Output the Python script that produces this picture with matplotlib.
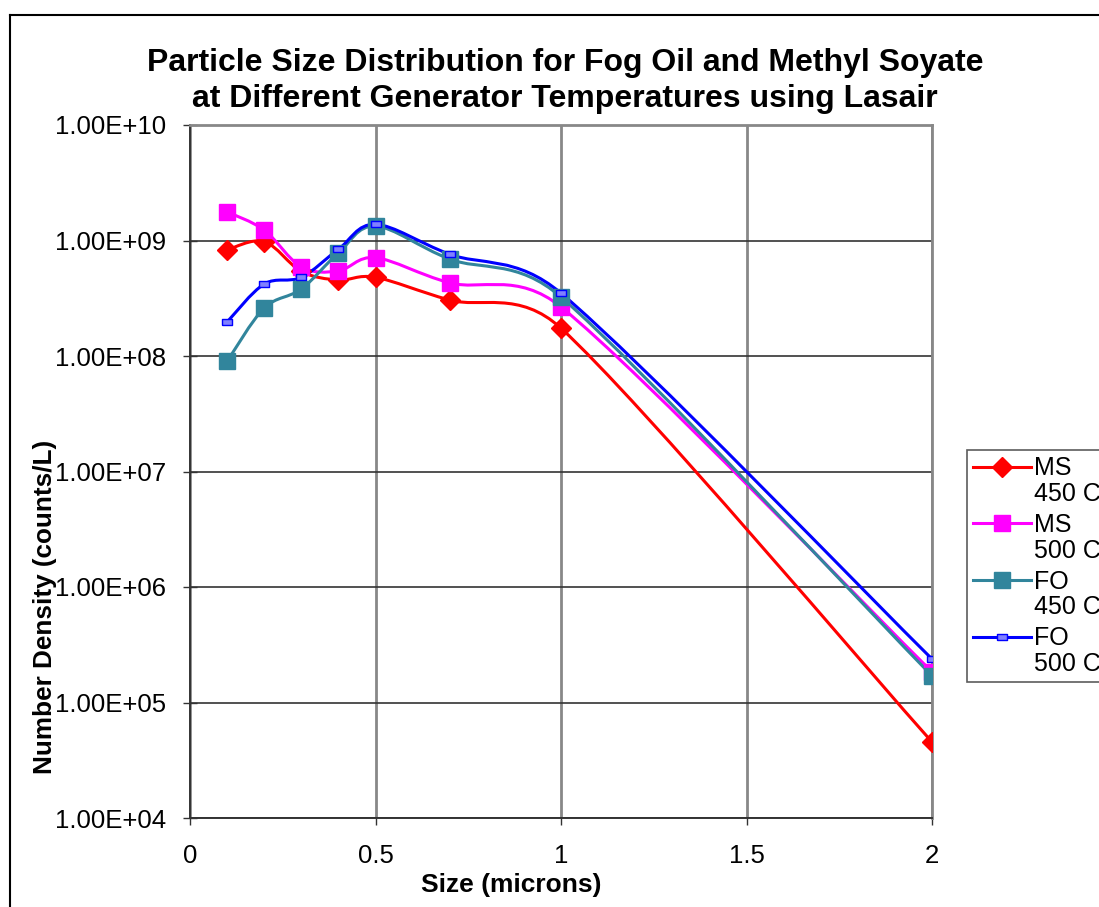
import numpy as np
import matplotlib.pyplot as plt
from matplotlib.path import Path
from matplotlib.patches import PathPatch
from matplotlib.legend_handler import HandlerLine2D
from matplotlib.lines import Line2D
from matplotlib.ticker import FixedLocator, FuncFormatter

plt.rcParams['font.family'] = ['Liberation Sans', 'DejaVu Sans']

# размеры частиц (мкм)
size = [0.1, 0.2, 0.3, 0.4, 0.5, 0.7, 1.0, 2.0]

# плотность числа частиц (counts/L)
ms_450 = [8.3e8, 9.8e8, 5.4e8, 4.55e8, 4.8e8, 3.05e8, 1.74e8, 4.55e4]
ms_500 = [1.77e9, 1.23e9, 5.9e8, 5.45e8, 7.1e8, 4.3e8, 2.66e8, 1.84e5]
fo_450 = [9.0e7, 2.6e8, 3.8e8, 7.8e8, 1.33e9, 6.9e8, 3.24e8, 1.7e5]
fo_500 = [1.97e8, 4.2e8, 4.8e8, 8.4e8, 1.38e9, 7.6e8, 3.5e8, 2.38e5]

labels = ["MS\n450 C", "MS\n500 C", "FO\n450 C", "FO\n500 C"]
colors = ["#FF0000", "#FF00FF", "#31859C", "#0000FF"]

rect = [(-1, -0.55), (1, -0.55), (1, 0.55), (-1, 0.55), (-1, -0.55)]
markers = [dict(marker="D", markersize=10),
           dict(marker="s", markersize=12),
           dict(marker="s", markersize=11),
           dict(marker=rect, markersize=7, markerfacecolor="#8080FF")]

# масштаб в пикселях (для сглаживания как в Excel)
PX_X = 371.0   # пикселей на 1 мкм
PX_Y = 115.5   # пикселей на декаду


def smooth_path(xs, ys):
    # кривые Безье (как сглаживание Excel): натяжение 1/6,
    # контрольная точка не дальше половины длины отрезка
    P = np.column_stack([np.array(xs, dtype=float) * PX_X, np.log10(ys) * PX_Y])
    n = len(P)
    verts = [tuple(P[0])]
    codes = [Path.MOVETO]
    for i in range(n - 1):
        p0 = P[max(i - 1, 0)]
        p1 = P[i]
        p2 = P[i + 1]
        p3 = P[min(i + 2, n - 1)]
        d12 = np.hypot(*(p2 - p1))
        d02 = np.hypot(*(p2 - p0))
        d13 = np.hypot(*(p3 - p1))
        f1 = min(1 / 6, d12 / (2 * d02)) if d02 > 0 else 1 / 6
        f2 = min(1 / 6, d12 / (2 * d13)) if d13 > 0 else 1 / 6
        c1 = p1 + (p2 - p0) * f1
        c2 = p2 - (p3 - p1) * f2
        verts += [tuple(c1), tuple(c2), tuple(p2)]
        codes += [Path.CURVE4] * 3
    verts = [(vx / PX_X, 10 ** (vy / PX_Y)) for vx, vy in verts]
    return Path(verts, codes)


fig = plt.figure(figsize=(10.99, 9.07), dpi=100)
ax = fig.add_axes([190 / 1099, 1 - 818 / 907, 742 / 1099, 693 / 907])
ax.set_yscale("log")
ax.set_xlim(0, 2)
ax.set_ylim(1e4, 1e10)

for data, c, m in zip([ms_450, ms_500, fo_450, fo_500], colors, markers):
    patch = PathPatch(smooth_path(size, data), facecolor="none", edgecolor=c,
                      linewidth=2.2, zorder=3)
    ax.add_patch(patch)
    ax.plot(size, data, linestyle="none", color=c, markeredgecolor=c, zorder=4, **m)

# сетка
ax.yaxis.set_major_locator(FixedLocator([10.0 ** k for k in range(4, 11)]))
ax.yaxis.set_minor_locator(FixedLocator([]))
ax.yaxis.set_major_formatter(FuncFormatter(lambda v, p: "1.00E+%02d" % round(np.log10(v))))
ax.set_xticks([0, 0.5, 1, 1.5, 2])
ax.set_xticklabels(["0", "0.5", "1", "1.5", "2"])
ax.grid(axis="y", color="#333333", linewidth=1.2)
ax.grid(axis="x", color="#888888", linewidth=2)
ax.set_axisbelow(True)

ax.spines["left"].set_color("#333333")
ax.spines["bottom"].set_color("#333333")
ax.spines["left"].set_linewidth(1.4)
ax.spines["bottom"].set_linewidth(1.4)
ax.spines["top"].set_color("#888888")
ax.spines["right"].set_color("#888888")
ax.spines["top"].set_linewidth(2)
ax.spines["right"].set_linewidth(2)

ax.tick_params(axis="y", which="major", direction="inout", length=10, width=1,
               color="#333333", labelsize=18.5, pad=12)
ax.tick_params(axis="x", direction="out", length=5, width=1, color="#333333",
               labelsize=18.5, pad=14)

ax.set_xlabel("Size (microns)", fontsize=19, fontweight="bold")
ax.xaxis.set_label_coords((511 - 190) / 742, (818 - 873) / 693)
ax.set_ylabel("Number Density (counts/L)", fontsize=18.8, fontweight="bold")
ax.yaxis.set_label_coords((57 - 190) / 742, (818 - 607) / 693)

fig.text(565 / 1099, 1 - 81 / 907,
         "Particle Size Distribution for Fog Oil and Methyl Soyate\n"
         "at Different Generator Temperatures using Lasair",
         ha="center", va="center", fontsize=23, fontweight="bold",
         linespacing=1.25)

# рамка диаграммы
fig.add_artist(Line2D([10 / 1099, 1], [1 - 15 / 907] * 2, color="black", linewidth=1.5))
fig.add_artist(Line2D([10 / 1099] * 2, [0, 1 - 15 / 907], color="black", linewidth=1.5))


class TopHandler(HandlerLine2D):
    def create_artists(self, legend, orig_handle, xdescent, ydescent, width, height,
                       fontsize, trans):
        arts = super().create_artists(legend, orig_handle, xdescent, ydescent, width,
                                      height, fontsize, trans)
        for a in arts:
            a.set_ydata(np.asarray(a.get_ydata()) + height * 0.88)
        return arts


handles = [Line2D([], [], color=c, linewidth=2.2, markeredgecolor=c, **m)
           for c, m in zip(colors, markers)]
leg = fig.legend(handles, labels, loc="upper left",
                 bbox_to_anchor=(967 / 1099, 1 - 450 / 907),
                 fontsize=18, frameon=True, fancybox=False, handlelength=2.3,
                 handletextpad=0.15, borderpad=0.25, labelspacing=0.27,
                 borderaxespad=0, numpoints=1,
                 handler_map={Line2D: TopHandler(numpoints=1)})
leg.get_frame().set_edgecolor("#333333")
leg.get_frame().set_linewidth(1.2)
for t in leg.get_texts():
    t.set_linespacing(1.1)

fig.savefig("out.png", dpi=100)
